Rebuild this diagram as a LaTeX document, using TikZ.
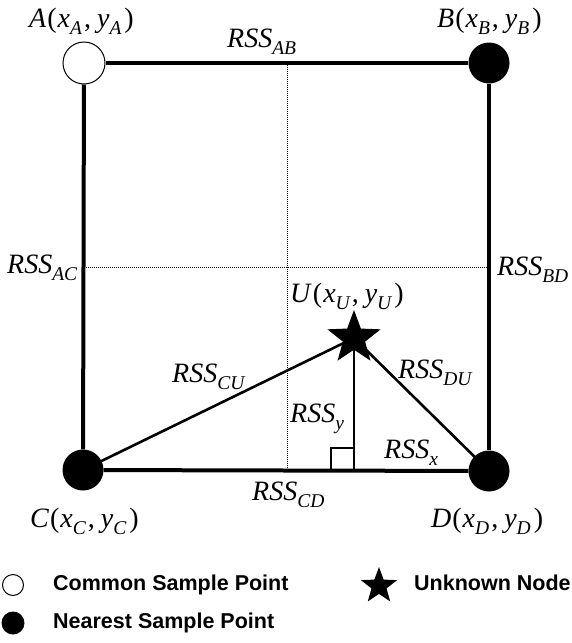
\documentclass[tikz,border=0pt]{standalone}
\usepackage{fontspec}
\setmainfont{Liberation Serif}
\newfontfamily\legendfont{Liberation Sans}
\usetikzlibrary{shapes.geometric}
\newcommand{\sbs}[1]{\raisebox{-7pt}{\fontsize{19.5}{19.5}\selectfont\itshape #1}}
\newcommand{\rss}[1]{\textit{RSS}\sbs{#1}}
\newcommand{\pt}[1]{\textit{#1}\kern1pt(\kern1pt\textit{x}\sbs{#1}\kern2pt,\kern6pt\textit{y}\sbs{#1}\kern3pt)}

\begin{document}
\begin{tikzpicture}[x=1pt, y=-1pt,
  openpt/.style={circle, draw=black, fill=white, line width=1pt, inner sep=0pt},
  fullpt/.style={circle, fill=black, inner sep=0pt},
  unode/.style={star, star points=5, star point ratio=2.4, fill=black, inner sep=0pt},
  edge/.style={line width=4pt},
  tri/.style={line width=2.6pt},
  grid/.style={densely dotted, line width=1pt},
  lbl/.style={anchor=base west, inner sep=0pt, font=\fontsize{28}{30}\selectfont},
  leg/.style={anchor=base west, inner sep=0pt, font=\fontsize{21.5}{24}\selectfont\legendfont\bfseries},
]
  \useasboundingbox (0,0) rectangle (571,643);
  % grid lines
  \coordinate (mt) at (287,63);
  \coordinate (mb) at (287,471);
  \coordinate (ml) at (84,267);
  \coordinate (mr) at (489,267);
  \coordinate (foot) at (354,471);
  \draw[grid] (mt) -- (mb);
  \draw[grid] (ml) -- (mr);
  % triangle
  \coordinate (u0) at (354,338);
  \draw[tri] (u0) -- (83,470);
  \draw[tri] (u0) -- (489,471);
  \draw[tri] (u0) -- (foot);
  \draw[tri] (331,471) -- (331,448) -- (354,448);
  % square
  \node[openpt, minimum size=42pt] (a) at (84,63) {};
  \node[fullpt, minimum size=41pt] (b) at (489,63) {};
  \node[fullpt, minimum size=41pt] (c) at (83,470) {};
  \node[fullpt, minimum size=41pt] (d) at (489,471) {};
  \node[unode, minimum size=56pt] (u) at (u0) {};
  \draw[edge] (a) -- (b);
  \draw[edge] (a) -- (c);
  \draw[edge] (b) -- (d);
  \draw[edge] (c) -- (d);
  % labels
  \node[lbl] (la) at (29,27) {\pt{A}};
  \node[lbl] (lb) at (437,27) {\pt{B}};
  \node[lbl] (lc) at (30,527) {\pt{C}};
  \node[lbl] (ld) at (431,527) {\pt{D}};
  \node[lbl] (lu) at (290,302) {\pt{U}};
  \node[lbl] (rab) at (227,47) {\rss{AB}};
  \node[lbl] (rac) at (7,273) {\rss{AC}};
  \node[lbl] (rbd) at (497,275) {\rss{BD}};
  \node[lbl] (rcd) at (252,500) {\rss{CD}};
  \node[lbl] (rcu) at (172,382) {\rss{CU}};
  \node[lbl] (rdu) at (398,378) {\rss{DU}};
  \node[lbl] (ry) at (290,422) {\rss{y}};
  \node[lbl] (rx) at (384,458) {\rss{x}};
  % legend
  \node[openpt, minimum size=21pt] (k1) at (13,585) {};
  \node[leg] (t1) at (53,590) {Common Sample Point};
  \node[fullpt, minimum size=23pt] (k2) at (13,623) {};
  \node[leg] (t2) at (53,628) {Nearest Sample Point};
  \node[unode, minimum size=38pt] (k3) at (379,586) {};
  \node[leg] (t3) at (414,590) {Unknown Node};
\end{tikzpicture}
\end{document}
